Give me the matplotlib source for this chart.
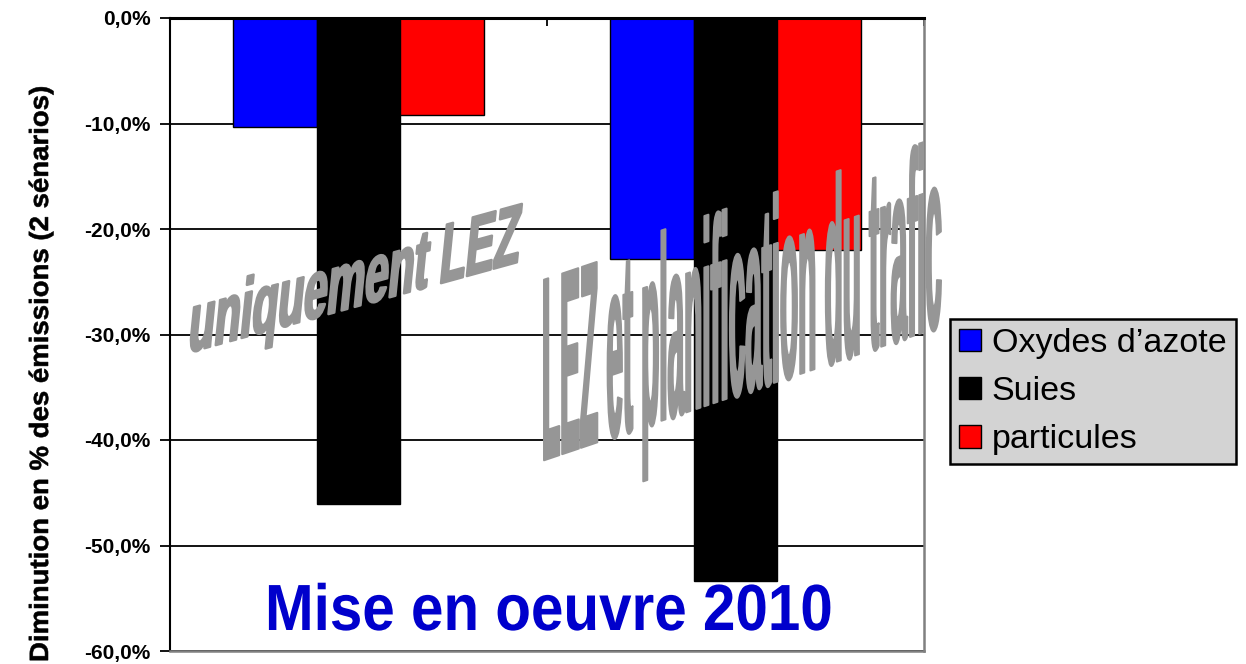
import numpy as np
import matplotlib
matplotlib.use("Agg")
import matplotlib.pyplot as plt
import matplotlib.patheffects as pe
from matplotlib.transforms import Affine2D

# data
categories = ["uniquement LEZ", "LEZ et planification du trafic"]
series_names = ["Oxydes d\u2019azote", "Suies", "particules"]
nox = [-10.3, -22.8]
suies = [-46.1, -53.4]
particules = [-9.2, -22.0]
y_ticks = [0, -10, -20, -30, -40, -50, -60]
y_tick_labels = ["0,0%", "-10,0%", "-20,0%", "-30,0%", "-40,0%", "-50,0%", "-60,0%"]
y_label = "Diminution en % des \u00e9missions (2 s\u00e9narios)"
title = "Mise en oeuvre 2010"

colors = ["#0000FF", "#000000", "#FF0000"]
W, H = 1246, 664


class Warp(pe.AbstractPathEffect):
    """Stretch / shear a text's glyphs around its anchor (WordArt look)."""

    def __init__(self, text, sx=1.0, sy=1.0, slope=0.0, slant=0.0, stroke=0.0):
        super().__init__()
        self.text = text
        self.sx, self.sy, self.slope, self.slant = sx, sy, slope, slant
        self.stroke = stroke

    def draw_path(self, renderer, gc, tpath, affine, rgbFace=None):
        px, py = self.text.get_transform().transform(self.text.get_position())
        m = np.array([[self.sx, self.slant * self.sy, 0],
                      [self.slope * self.sx, self.sy, 0],
                      [0, 0, 1]])
        warp = Affine2D().translate(-px, -py) + Affine2D(m) + Affine2D().translate(px, py)
        gc0 = renderer.new_gc()
        gc0.copy_properties(gc)
        if self.stroke > 0:
            gc0.set_linewidth(self.stroke)
            gc0.set_foreground(rgbFace)
            gc0.set_joinstyle('round')
        renderer.draw_path(gc0, tpath, affine + warp, rgbFace)
        gc0.restore()


plt.rcParams['font.family'] = ['Liberation Sans', 'DejaVu Sans']

fig = plt.figure(figsize=(W / 100, H / 100), dpi=100)
ax = fig.add_axes([170 / W, 1 - 651 / H, 754 / W, 633 / H])

x = np.arange(len(categories))
w = 0.2228
for i, vals in enumerate([nox, suies, particules]):
    ax.bar(x + (i - 1) * w, vals, w, color=colors[i], edgecolor='black',
           linewidth=1.0, label=series_names[i], zorder=2)

ax.set_xlim(-0.5, 1.5)
ax.set_ylim(-60, 0)
ax.set_yticks(y_ticks)
ax.set_yticklabels(y_tick_labels, fontsize=15, fontweight='bold')
ax.tick_params(axis='y', direction='out', length=7, width=1.3, pad=7)
ax.set_xticks([-0.5, 0.5, 1.5])
ax.tick_params(axis='x', bottom=False, top=True, direction='in', length=6,
               width=1.3, labelbottom=False, labeltop=False)
ax.yaxis.grid(True, color='black', linewidth=1.3)
ax.set_axisbelow(True)
ax.spines['left'].set_linewidth(1.5)
ax.spines['top'].set_linewidth(2.2)
for s in ['right', 'bottom']:
    ax.spines[s].set_color('#808080')
    ax.spines[s].set_linewidth(1.8)

leg = fig.legend(loc='upper left', bbox_to_anchor=(950 / W, 1 - 319 / H),
                 borderaxespad=0, fontsize=24.5, fancybox=False,
                 facecolor='#d3d3d3', edgecolor='black', framealpha=1,
                 handlelength=0.64, handleheight=0.64, handletextpad=0.32,
                 borderpad=0.27, labelspacing=0.5)
leg.get_frame().set_linewidth(1.8)

renderer = fig.canvas.get_renderer()
px_per_pt = 100 / 72
cap = 0.716  # cap height of Liberation Sans Bold, in em

# y axis label, stretched along its length
t = fig.text(48 / W, 1 - 373.5 / H, y_label, rotation=90, rotation_mode='anchor',
             ha='center', va='baseline', fontsize=19, fontweight='bold')
bb = t.get_window_extent(renderer)
t.set_path_effects([Warp(t, sy=577 / bb.height, stroke=0.4)])

# blue caption at the bottom of the plot
t = fig.text(548.5 / W, 34 / H, title, ha='center', va='baseline',
             fontsize=47, fontweight='bold', color='#0000CC')
bb = t.get_window_extent(renderer)
t.set_path_effects([Warp(t, sx=567 / bb.width)])

# WordArt style scenario labels: font size picked so the plain width fits,
# then the glyphs are stretched up and sheared along the slanted baseline
wa = [
    # anchor (px), width, cap height, baseline slope, slant, stroke
    ((187, 311), 331, 61, 0.275, 0.10, 1.8),
    ((542, 203), 400, 188, 0.337, 0.0, 1.4),
]
for name, ((ax0, ay0), tw, th, slope, slant, lw) in zip(categories, wa):
    t = fig.text(ax0 / W, ay0 / H, name, ha='left', va='baseline', fontsize=40,
                 fontweight='bold', color='#969696', zorder=10)
    fs = 40 * tw / t.get_window_extent(renderer).width
    t.set_fontsize(fs)
    bb = t.get_window_extent(renderer)
    t.set_path_effects([Warp(t, sx=tw / bb.width, sy=th / (cap * fs * px_per_pt),
                             slope=slope, slant=slant, stroke=lw)])

fig.savefig("out.png", dpi=100)
